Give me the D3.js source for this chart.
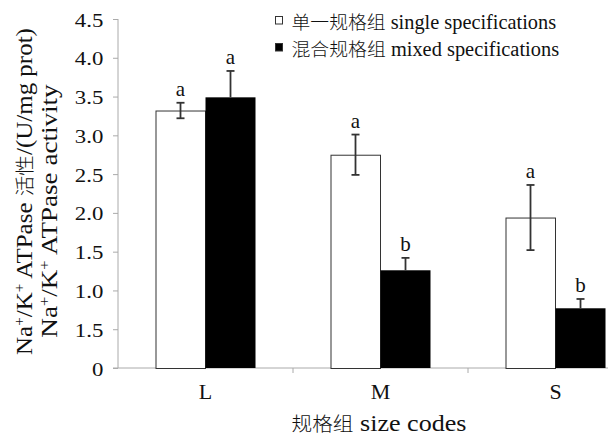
<!DOCTYPE html>
<html><head><meta charset="utf-8">
<script src="https://cdn.jsdelivr.net/npm/d3@7/dist/d3.min.js"></script>
<style>
body{margin:0;background:#fff;}
text{font-family:"Liberation Serif","Noto Sans CJK SC",serif;fill:#111;}
.cjk{font-family:"Noto Sans CJK SC",sans-serif;font-weight:300;}
</style></head>
<body><svg id="c" width="608" height="437"></svg>
<script>
const categories = ["L","M","S"];
const seriesNames = ["单一规格组 single specifications","混合规格组 mixed specifications"];
const singleVals = [3.32, 2.75, 1.94];
const singleErr = [0.10, 0.26, 0.42];
const mixedVals = [3.49, 1.26, 0.77];
const mixedErr = [0.34, 0.16, 0.12];
const singleSig = ["a","a","a"];
const mixedSig = ["a","b","b"];
const yTicks = [0,0.5,1.0,1.5,2.0,2.5,3.0,3.5,4.0,4.5];
const yTickLabels = ["0","1.5","1.0","1.5","2.0","2.5","3.0","3.5","4.0","4.5"];
const xTitle = "规格组 size codes";
const yTitle1 = [["Na",0],["+",1],["/K",0],["+",1],[" ATPase  活性/(U/mg prot)",0]];
const yTitle2 = [["Na",0],["+",1],["/K",0],["+",1],[" ATPase activity",0]];

const svg = d3.select("#c");
const x0 = 118, x1 = 643, yTop = 19, yBot = 368;
const x = d3.scaleBand().domain(categories).range([x0,x1]);
const y = d3.scaleLinear().domain([0,4.5]).range([yBot,yTop]);
const barW = 50;

function fit(textSel, target){
  return target / textSel.node().getBBox().width;
}
function mixed(textSel, str, latin, cjk, dyFirst){
  const runs = str.match(/[\u4e00-\u9fff]+|[^\u4e00-\u9fff]+/g);
  runs.forEach((r,k)=>{
    const isC = /[\u4e00-\u9fff]/.test(r);
    const ts = textSel.append("tspan").text(r).style("font-size",(isC?cjk:latin)+"px");
    if(isC) ts.attr("class","cjk");
    if(k===0 && dyFirst) ts.attr("dy",dyFirst);
  });
}

// y axis
const yAxis = svg.append("g").attr("transform",`translate(${x0},0)`)
  .call(d3.axisLeft(y).tickValues(yTicks).tickFormat((d,i)=>yTickLabels[i]).tickSize(5).tickPadding(9))
  .attr("font-family","Liberation Serif");
yAxis.select(".domain").attr("stroke","#aaa").attr("d",`M0,${yTop}V${yBot}`);
yAxis.selectAll(".tick line").attr("stroke","#aaa");
const tt = yAxis.selectAll(".tick text").style("font-size","19.5px").attr("fill","#111")
  .style("font-family","'Liberation Serif', serif");
{
  const w45 = tt.filter((d,i)=>i===yTicks.length-1).node().getBBox().width;
  const s = 28.5 / w45;
  tt.attr("x", -14.7/s).attr("transform",`scale(${s},1)`).attr("dy","0.36em");
}

// x axis
const xAxis = svg.append("g").attr("transform",`translate(0,${yBot})`);
xAxis.append("line").attr("x1",x0-5).attr("x2",608).attr("y1",0).attr("y2",0).attr("stroke","#aaa");
xAxis.selectAll("line.tk").data(categories.slice(1)).join("line").attr("class","tk")
  .attr("x1",d=>x(d)).attr("x2",d=>x(d)).attr("y1",0).attr("y2",5).attr("stroke","#aaa");
xAxis.selectAll("text").data(categories).join("text")
  .attr("x",d=>x(d)+x.bandwidth()/2).attr("y",31).attr("text-anchor","middle")
  .style("font-size","22px").text(d=>d);

const data = [];
categories.forEach((c,i)=>{
  data.push({c, s:0, v:singleVals[i], e:singleErr[i], sig:singleSig[i]});
  data.push({c, s:1, v:mixedVals[i], e:mixedErr[i], sig:mixedSig[i]});
});
const bx = d => x(d.c)+x.bandwidth()/2 + (d.s===0 ? -barW : 0);

svg.append("g").selectAll("rect").data(data).join("rect")
  .attr("x",d=>bx(d)+(d.s===0?0.5:0)).attr("y",d=>y(d.v)+(d.s===0?0.5:0))
  .attr("width",d=>d.s===0?barW-0.5:barW).attr("height",d=>yBot-y(d.v))
  .attr("fill",d=>d.s===0?"#fff":"#000")
  .attr("stroke",d=>d.s===0?"#333":"none").attr("stroke-width",1);

const eg = svg.append("g").attr("stroke","#333").attr("stroke-width",1.8);
data.forEach(d=>{
  const cx = bx(d)+barW/2;
  const t = y(d.v+d.e), b = y(d.v-d.e);
  const lowEnd = d.s===0 ? b : y(d.v);
  eg.append("line").attr("x1",cx).attr("x2",cx).attr("y1",t).attr("y2",lowEnd);
  eg.append("line").attr("x1",cx-4).attr("x2",cx+4).attr("y1",t).attr("y2",t);
  if(d.s===0) eg.append("line").attr("x1",cx-4).attr("x2",cx+4).attr("y1",b).attr("y2",b);
});

svg.append("g").selectAll("text").data(data).join("text")
  .attr("x",d=>bx(d)+barW/2).attr("y",d=>y(d.v+d.e)-6.5).attr("text-anchor","middle")
  .style("font-size","21px").text(d=>d.sig);

// legend
const legTargets = [265, 268];
seriesNames.forEach((n,i)=>{
  const base = 29 + i*27;
  svg.append("rect").attr("x",275.5).attr("y",base-12.5).attr("width",7).attr("height",7.5)
    .attr("fill",i===0?"#fff":"#000").attr("stroke","#333").attr("stroke-width",1);
  const g = svg.append("g");
  const t = g.append("text");
  mixed(t, n, 20, 18.5);
  const s = fit(t, legTargets[i]);
  g.attr("transform",`translate(291.5,${base}) scale(${s},1)`);
});

// x title
{
  const g = svg.append("g");
  const t = g.append("text").attr("text-anchor","middle");
  mixed(t, xTitle, 24, 19);
  const s = fit(t, 175);
  g.attr("transform",`translate(379,431) scale(${s},1)`);
}

function ytitle(cx, cy, parts, target){
  const g = svg.append("g");
  const t = g.append("text").attr("text-anchor","middle");
  parts.forEach(([txt,sup],k)=>{
    if(sup){ t.append("tspan").text(txt).attr("dy",-8).style("font-size","14px"); }
    else mixed(t, txt, 23, 19, k>0 ? 8 : null);
  });
  const s = fit(t, target);
  g.attr("transform",`translate(${cx},${cy}) rotate(-90) scale(${s},1)`);
}
ytitle(32, 191.5, yTitle1, 327);
ytitle(57, 211, yTitle2, 254);
</script></body></html>
